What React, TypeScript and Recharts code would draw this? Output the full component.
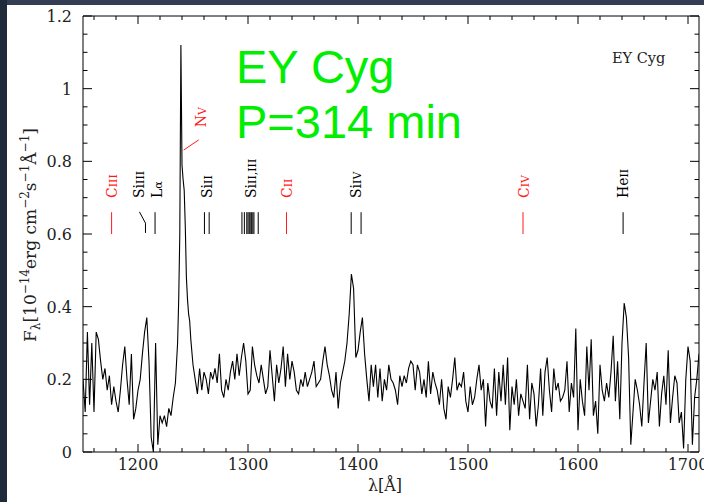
import { LineChart, Line, XAxis, YAxis, ReferenceLine, ReferenceDot } from "recharts";

// flux in 10^-14 erg cm^-2 s^-1 A^-1
const blueStart = 1150;
const blueStep = 2;
const fluxBlue = [
  0.2, 0.11, 0.33, 0.13, 0.3, 0.11, 0.33, 0.31, 0.25, 0.2,
  0.23, 0.17, 0.21, 0.13, 0.18, 0.14, 0.11, 0.17,
  0.24, 0.29, 0.2, 0.13, 0.27,
  0.09, 0.12, 0.17, 0.2, 0.27, 0.33, 0.37, 0.25, 0.04, 0.0, 0.3, 0.02, 0.1, 0.08, 0.1, 0.07, 0.12, 0.1, 0.15, 0.19,
];

const nvStart = 1236;
const nvStep = 1;
const fluxNV = [0.3, 0.42, 0.6, 1.12, 0.79, 0.75, 0.72, 0.62, 0.48, 0.42, 0.38, 0.36, 0.31];

const midStart = 1250;
const midStep = 2;
const fluxMid = [
  0.24, 0.2, 0.16, 0.23, 0.17, 0.22, 0.2, 0.16, 0.22, 0.2, 0.23, 0.19, 0.27, 0.17, 0.15, 0.2, 0.17, 0.22, 0.25, 0.2, 0.27, 0.21,
  0.26, 0.3, 0.25, 0.16, 0.17, 0.29, 0.24, 0.21, 0.19, 0.24, 0.2, 0.16, 0.18, 0.28, 0.21, 0.14, 0.24, 0.19, 0.23, 0.29,
  0.18, 0.27, 0.2, 0.25, 0.22, 0.17, 0.16, 0.2, 0.18, 0.22, 0.18, 0.2, 0.22, 0.25, 0.18, 0.19, 0.2, 0.25, 0.29, 0.24,
  0.21, 0.17, 0.15, 0.22, 0.12, 0.19, 0.22, 0.25, 0.3, 0.38, 0.49, 0.45, 0.26, 0.28, 0.33, 0.37, 0.27, 0.2, 0.14, 0.24,
  0.18, 0.24, 0.15, 0.23, 0.14, 0.2, 0.17, 0.24, 0.2, 0.19, 0.17, 0.13, 0.21,
];

const redStart = 1440;
const redStep = 2;
const fluxRed = [
  0.18, 0.21, 0.19, 0.23, 0.25, 0.24, 0.17, 0.24, 0.22, 0.16, 0.2, 0.15, 0.25, 0.16, 0.22, 0.19, 0.17, 0.13, 0.2, 0.12,
  0.09, 0.18, 0.15, 0.2, 0.26, 0.17, 0.19, 0.18, 0.22, 0.14, 0.11, 0.18, 0.13, 0.15, 0.2, 0.24, 0.17, 0.2, 0.07, 0.19,
  0.14, 0.12, 0.23, 0.1, 0.22, 0.14, 0.24, 0.13, 0.26, 0.06, 0.18, 0.13, 0.2, 0.1, 0.16, 0.14, 0.12, 0.24, 0.09, 0.19,
  0.16, 0.07, 0.13, 0.23, 0.1, 0.22, 0.26, 0.17,
  0.11, 0.23, 0.17, 0.19, 0.14, 0.15, 0.17, 0.25, 0.11, 0.19, 0.15, 0.34, 0.06, 0.2, 0.14, 0.1, 0.29, 0.17, 0.31, 0.1,
  0.14, 0.05, 0.24, 0.17, 0.14, 0.19, 0.15, 0.22, 0.32, 0.14, 0.25, 0.09, 0.3, 0.41, 0.37, 0.26, 0.02, 0.11, 0.2, 0.17,
  0.13, 0.07, 0.19, 0.3, 0.08, 0.14, 0.2, 0.17, 0.22, 0.07, 0.16, 0.21, 0.13, 0.28, 0.08, 0.15, 0.21, 0.19, 0.08, 0.11,
  0.01, 0.2, 0.29, 0.25, 0.02, 0.15, 0.2, 0.27,
];

const xTicks = [
  1160, 1180, 1200, 1220, 1240, 1260, 1280, 1300, 1320, 1340, 1360, 1380, 1400, 1420, 1440, 1460, 1480,
  1500, 1520, 1540, 1560, 1580, 1600, 1620, 1640, 1660, 1680, 1700,
];
const yTicks = [
  0, 0.05, 0.1, 0.15, 0.2, 0.25, 0.3, 0.35, 0.4, 0.45, 0.5, 0.55, 0.6, 0.65, 0.7, 0.75, 0.8, 0.85, 0.9, 0.95, 1,
  1.05, 1.1, 1.15, 1.2,
];
const yMajor = [0, 0.2, 0.4, 0.6, 0.8, 1, 1.2];

// line identifications: marks drawn from 0.6 to 0.66, labels above
const RED = "#ff1a1a";
const ions = [
  { el: "C", stage: "III", at: 1176, marks: [1176], color: RED },
  { el: "Si", stage: "III", at: 1201, marks: [], color: "#000" },
  { el: "L", stage: "α", at: 1217, marks: [1215.5], color: "#000" },
  { el: "Si", stage: "II", at: 1263, marks: [1260.4, 1264.7], color: "#000" },
  { el: "Si", stage: "II,III", at: 1302.5, marks: [1294.5, 1296.7, 1298.9, 1300, 1301.1, 1302, 1303.3, 1304.4, 1305.4, 1309.3], color: "#000" },
  { el: "C", stage: "II", at: 1335.5, marks: [1335], color: RED },
  { el: "Si", stage: "IV", at: 1398.5, marks: [1393.8, 1402.8], color: "#000" },
  { el: "C", stage: "IV", at: 1550.5, marks: [1550], color: RED },
  { el: "He", stage: "II", at: 1641, marks: [1641], color: "#000" },
];

const data = [
  ...fluxBlue.map((f, i) => ({ wl: blueStart + i * blueStep, flux: f })),
  ...fluxNV.map((f, i) => ({ wl: nvStart + i * nvStep, flux: f })),
  ...fluxMid.map((f, i) => ({ wl: midStart + i * midStep, flux: f })),
  ...fluxRed.map((f, i) => ({ wl: redStart + i * redStep, flux: f })),
];

const SERIF = "'DejaVu Serif', serif";

function BottomTick({ x, y, payload }: any) {
  const major = payload.value % 100 === 0;
  return (
    <g>
      <line x1={x} x2={x} y1={y} y2={y - (major ? 8 : 4)} stroke="#000" />
      {major && (
        <text x={x} y={y + 18} textAnchor="middle" fontFamily={SERIF} fontSize={16} fill="#222">
          {payload.value}
        </text>
      )}
    </g>
  );
}

function TopTick({ x, y, payload }: any) {
  const major = payload.value % 100 === 0;
  return <line x1={x} x2={x} y1={y} y2={y + (major ? 8 : 4)} stroke="#000" />;
}

function LeftTick({ x, y, payload }: any) {
  const major = yMajor.includes(payload.value);
  return (
    <g>
      <line x1={x} x2={x + (major ? 9 : 4.5)} y1={y} y2={y} stroke="#000" />
      {major && (
        <text x={x - 11} y={y} dy={6} textAnchor="end" fontFamily={SERIF} fontSize={16} fill="#222">
          {String(payload.value)}
        </text>
      )}
    </g>
  );
}

function RightTick({ x, y, payload }: any) {
  const major = yMajor.includes(payload.value);
  return <line x1={x} x2={x - (major ? 9 : 4.5)} y1={y} y2={y} stroke="#000" />;
}

function IonLabel({ cx, cy, el, stage, color }: any) {
  return (
    <text transform={`translate(${cx + 5},${cy}) rotate(-90)`} fill={color} fontFamily={SERIF} fontSize={14}>
      {el}
      <tspan fontSize={11}>{stage}</tspan>
    </text>
  );
}

export default function App() {
  return (
    <div style={{ position: "absolute", left: 0, top: 0, width: 704, height: 502, background: "#fff", overflow: "hidden" }}>
      <div style={{ position: "absolute", left: 0, top: 0, width: 704, height: 5, background: "#333e55" }} />
      <div style={{ position: "absolute", left: 0, top: 0, width: 7, height: 502, background: "#1f2a3b" }} />
      <div style={{ position: "absolute", left: 0, top: 0 }}>
        <LineChart width={704} height={502} data={data} margin={{ top: 0, right: 0, bottom: 0, left: 0 }}>
          <XAxis
            dataKey="wl"
            type="number"
            domain={[1150, 1710]}
            allowDataOverflow
            ticks={xTicks}
            interval={0}
            height={50}
            tickSize={0}
            tickMargin={0}
            tickLine={false}
            axisLine={{ stroke: "#000" }}
            tick={<BottomTick />}
          />
          <XAxis
            xAxisId="top"
            orientation="top"
            dataKey="wl"
            type="number"
            domain={[1150, 1710]}
            allowDataOverflow
            ticks={xTicks}
            interval={0}
            height={16}
            tickSize={0}
            tickMargin={0}
            tickLine={false}
            axisLine={{ stroke: "#000" }}
            tick={<TopTick />}
          />
          <YAxis
            type="number"
            domain={[0, 1.2]}
            allowDataOverflow
            ticks={yTicks}
            interval={0}
            width={83}
            tickSize={0}
            tickMargin={0}
            tickLine={false}
            axisLine={{ stroke: "#000" }}
            tick={<LeftTick />}
          />
          <YAxis
            yAxisId="right"
            orientation="right"
            type="number"
            domain={[0, 1.2]}
            allowDataOverflow
            ticks={yTicks}
            interval={0}
            width={5}
            tickSize={0}
            tickMargin={0}
            tickLine={false}
            axisLine={{ stroke: "#000" }}
            tick={<RightTick />}
          />
          {ions.map((ion) =>
            ion.marks.map((m) => (
              <ReferenceLine
                key={`${ion.el}${ion.stage}${m}`}
                segment={[{ x: m, y: 0.6 }, { x: m, y: 0.66 }]}
                stroke={ion.color}
                strokeWidth={1}
              />
            ))
          )}
          <ReferenceLine segment={[{ x: 1201.3, y: 0.661 }, { x: 1206.8, y: 0.63 }]} stroke="#000" />
          <ReferenceLine segment={[{ x: 1206.8, y: 0.63 }, { x: 1206.8, y: 0.603 }]} stroke="#000" />
          <ReferenceLine segment={[{ x: 1241.5, y: 0.831 }, { x: 1255.2, y: 0.859 }]} stroke={RED} />
          {ions.map((ion) => (
            <ReferenceDot
              key={`lab${ion.el}${ion.stage}`}
              x={ion.at}
              y={0.699}
              r={1}
              shape={(p: any) => <IonLabel cx={p.cx} cy={p.cy} el={ion.el} stage={ion.stage} color={ion.color} />}
            />
          ))}
          <ReferenceDot
            x={1257}
            y={0.894}
            r={1}
            shape={(p: any) => <IonLabel cx={p.cx} cy={p.cy} el="N" stage="V" color={RED} />}
          />
          <Line
            type="linear"
            dataKey="flux"
            stroke="#000"
            strokeWidth={1.1}
            dot={false}
            isAnimationActive={false}
          />
          <Line
            xAxisId="top"
            yAxisId="right"
            dataKey="flux"
            stroke="none"
            dot={false}
            isAnimationActive={false}
          />
        </LineChart>
      </div>
      <svg width={704} height={502} style={{ position: "absolute", left: 0, top: 0, pointerEvents: "none" }}>
        <text x={236} y={83} fontFamily="'Liberation Sans', Arial, sans-serif" fontSize={47} fill="#00ee00">
          EY Cyg
        </text>
        <text x={236} y={138} fontFamily="'Liberation Sans', Arial, sans-serif" fontSize={47} fill="#00ee00">
          P=314 min
        </text>
        <text x={612} y={63} fontFamily={SERIF} fontSize={14.5} fill="#222">
          EY Cyg
        </text>
        <text x={385} y={491} textAnchor="middle" fontFamily={SERIF} fontSize={16} fill="#222">
          λ[Å]
        </text>
        <text transform="translate(36,235) rotate(-90)" textAnchor="middle" fontFamily={SERIF} fontSize={17} fill="#222">
          F<tspan fontSize={12} dy={4}>λ</tspan>
          <tspan dy={-4}>[10</tspan>
          <tspan fontSize={12} dy={-7}>−14</tspan>
          <tspan dy={7}>erg cm</tspan>
          <tspan fontSize={12} dy={-7}>−2</tspan>
          <tspan dy={7}>s</tspan>
          <tspan fontSize={12} dy={-7}>−1</tspan>
          <tspan dy={7}>Å</tspan>
          <tspan fontSize={12} dy={-7}>−1</tspan>
          <tspan dy={7}>]</tspan>
        </text>
      </svg>
    </div>
  );
}
